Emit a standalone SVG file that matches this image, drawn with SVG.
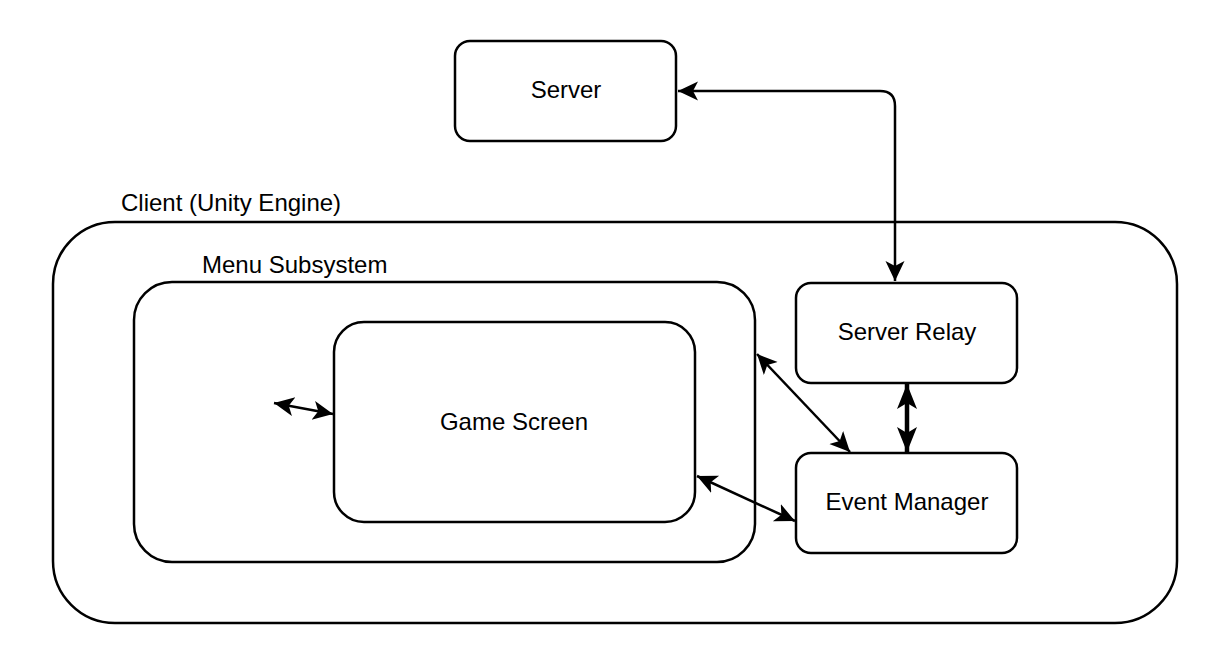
<svg xmlns="http://www.w3.org/2000/svg" width="1218" height="668" viewBox="0 0 1218 668">
<style>
.box{fill:#fff;stroke:#000;stroke-width:2.5}
.t{font-family:"Liberation Sans",Arial,sans-serif;font-size:24px;fill:#000}
.c{text-anchor:middle}
.ln{fill:none;stroke:#000;stroke-width:2.5}
.thick{fill:none;stroke:#000;stroke-width:4.5}
</style>
<defs>
<marker id="ah" markerUnits="userSpaceOnUse" markerWidth="22" markerHeight="22" refX="20" refY="10" orient="auto-start-reverse" viewBox="0 0 22 22">
<path d="M0,0.5 L20,10 L0,19.5 L5,10 z" fill="#000"/>
</marker>
<marker id="ahb" markerUnits="userSpaceOnUse" markerWidth="28" markerHeight="24" refX="25" refY="11" orient="auto-start-reverse" viewBox="0 0 28 24">
<path d="M0,1 L25,11 L0,21 L6,11 z" fill="#000"/>
</marker>
</defs>
<g id="client">
<rect class="box" x="53" y="222" width="1124" height="401" rx="62" ry="62"/>
<text class="t" x="121" y="211">Client (Unity Engine)</text>
</g>
<g id="menu">
<rect class="box" x="134" y="282" width="621" height="280" rx="38" ry="38"/>
<text class="t" x="202" y="273">Menu Subsystem</text>
</g>
<g id="server">
<rect class="box" x="455" y="41" width="221" height="100" rx="15" ry="15"/>
<text class="t c" x="566" y="98">Server</text>
</g>
<g id="gamescreen">
<rect class="box" x="334" y="322" width="361" height="200" rx="30" ry="30"/>
<text class="t c" x="514" y="430">Game Screen</text>
</g>
<g id="relay">
<rect class="box" x="796" y="283" width="221" height="100" rx="15" ry="15"/>
<text class="t c" x="907" y="340">Server Relay</text>
</g>
<g id="eventmanager">
<rect class="box" x="796" y="453" width="221" height="100" rx="15" ry="15"/>
<text class="t c" x="907" y="510">Event Manager</text>
</g>
<g id="connectors">
<path class="ln" d="M678,91 L880,91 Q895,91 895,106 L895,281" marker-start="url(#ah)" marker-end="url(#ah)"/>
<path class="thick" d="M907,384 L907,452" marker-start="url(#ahb)" marker-end="url(#ahb)"/>
<path class="ln" d="M757,354 L850,452" marker-start="url(#ah)" marker-end="url(#ah)"/>
<path class="ln" d="M697,476 L795,521" marker-start="url(#ah)" marker-end="url(#ah)"/>
<path class="ln" d="M274,403 L333,414" marker-start="url(#ah)" marker-end="url(#ah)"/>
</g>
</svg>
